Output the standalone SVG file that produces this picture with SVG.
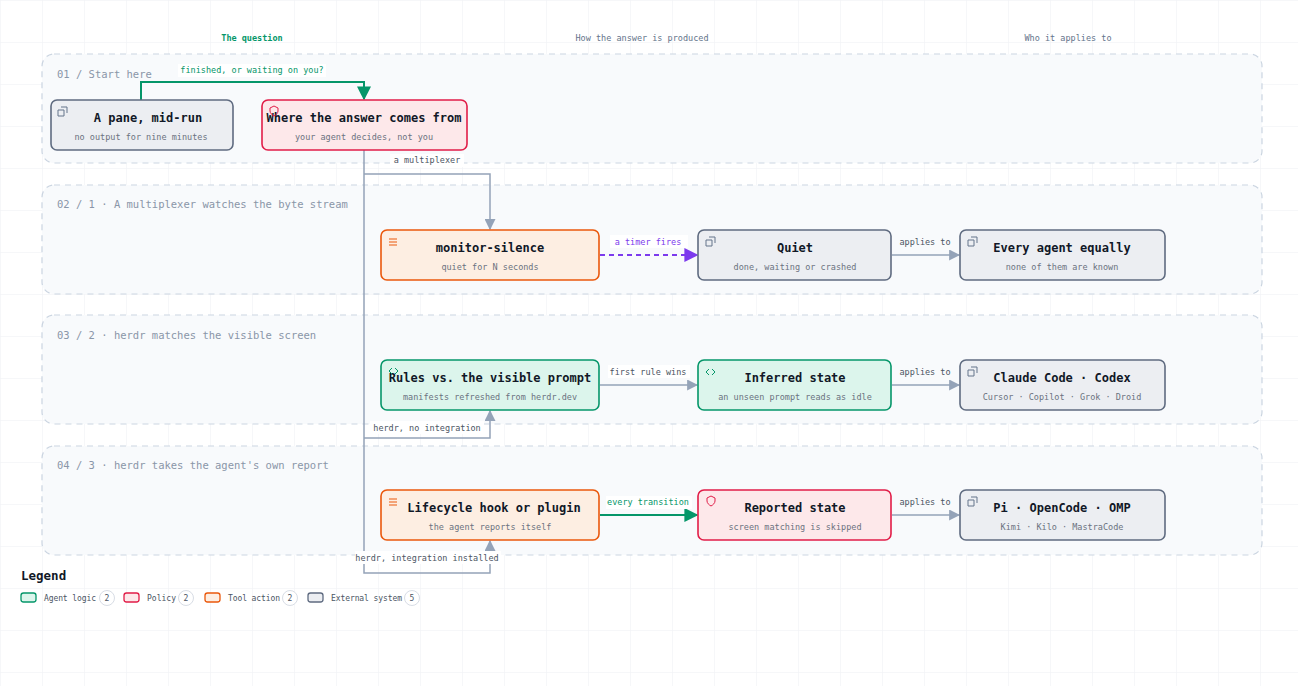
<svg xmlns="http://www.w3.org/2000/svg" width="1298" height="686" viewBox="0 0 1298 686">
<defs>
<pattern id="grid" width="42" height="42" patternUnits="userSpaceOnUse"><path d="M42 0H0V42" fill="none" stroke="#eef0f3" stroke-width="1"/></pattern>
<marker id="agr" viewBox="0 0 10 10" refX="9" refY="5" markerWidth="14" markerHeight="14" orient="auto" markerUnits="userSpaceOnUse"><path d="M0 0L10 5L0 10z" fill="#059669"/></marker>
<marker id="as" viewBox="0 0 10 10" refX="9" refY="5" markerWidth="11" markerHeight="11" orient="auto" markerUnits="userSpaceOnUse"><path d="M0 0L10 5L0 10z" fill="#94a3b8"/></marker>
<marker id="ap" viewBox="0 0 10 10" refX="9" refY="5" markerWidth="14" markerHeight="14" orient="auto" markerUnits="userSpaceOnUse"><path d="M0 0L10 5L0 10z" fill="#7c3aed"/></marker>
<style>
text{font-family:"DejaVu Sans Mono","Liberation Mono",monospace}
.lane{fill:#f8fafc;stroke:#cbd5e1;stroke-dasharray:6 5;stroke-width:1.2}
.lt{font-size:10.5px;fill:#8a96a8}
.hd{font-size:8.5px;fill:#64748b;text-anchor:middle}
.n{stroke-width:1.6}
.ext{fill:#eceef2;stroke:#5f6b80}
.pol{fill:#fde8ea;stroke:#e11d48}
.tool{fill:#fdeee2;stroke:#ea580c}
.ag{fill:#dcf5ec;stroke:#059669}
.t{font-size:12px;font-weight:bold;fill:#111827;text-anchor:middle}
.s{font-size:8.5px;fill:#6b7280;text-anchor:middle}
.c{fill:none;stroke:#94a3b8;stroke-width:1.5}
.cl{font-size:8.5px;fill:#4b5563;text-anchor:middle}
.lb{fill:#fff}
.lg{font-size:8px;fill:#4b5563}
.bd{fill:#fff;stroke:#d8dde5}
</style>
</defs>
<rect width="1298" height="686" fill="#fff"/>
<rect width="1298" height="686" fill="url(#grid)"/>
<text class="hd" x="252" y="41" style="fill:#059669;font-weight:bold">The question</text>
<text class="hd" x="642" y="41">How the answer is produced</text>
<text class="hd" x="1068" y="41">Who it applies to</text>
<g id="lanes">
<rect class="lane" x="42" y="54" width="1220" height="109" rx="12"/>
<rect class="lane" x="42" y="185" width="1220" height="109" rx="12"/>
<rect class="lane" x="42" y="315" width="1220" height="109" rx="12"/>
<rect class="lane" x="42" y="446" width="1220" height="109" rx="12"/>
<text class="lt" x="57" y="78">01 / Start here</text>
<text class="lt" x="57" y="208">02 / 1 · A multiplexer watches the byte stream</text>
<text class="lt" x="57" y="339">03 / 2 · herdr matches the visible screen</text>
<text class="lt" x="57" y="469">04 / 3 · herdr takes the agent's own report</text>
</g>
<g id="connectors">
<path d="M141 100V82H364V99" fill="none" stroke="#059669" stroke-width="2" marker-end="url(#agr)"/>
<rect class="lb" x="178" y="64" width="148" height="13"/>
<text class="cl" x="252" y="73" style="fill:#059669">finished, or waiting on you?</text>
<path class="c" d="M364 150V573H490V541" marker-end="url(#as)"/>
<path class="c" d="M364 174H490V229" marker-end="url(#as)"/>
<rect class="lb" x="390" y="154" width="74" height="13"/>
<text class="cl" x="427" y="163">a multiplexer</text>
<path class="c" d="M364 438H490V411" marker-end="url(#as)"/>
<rect class="lb" x="370" y="421" width="114" height="13"/>
<text class="cl" x="427" y="431">herdr, no integration</text>
<rect class="lb" x="355" y="551" width="146" height="13"/>
<text class="cl" x="427" y="561">herdr, integration installed</text>
<path d="M600 255H697" fill="none" stroke="#7c3aed" stroke-width="1.8" stroke-dasharray="5 4" marker-end="url(#ap)"/>
<rect class="lb" x="610" y="235" width="78" height="13"/>
<text class="cl" x="648" y="245" style="fill:#7c3aed">a timer fires</text>
<path class="c" d="M892 255H959" marker-end="url(#as)"/>
<text class="cl" x="925" y="245">applies to</text>
<path class="c" d="M600 385H697" marker-end="url(#as)"/>
<rect class="lb" x="608" y="365" width="82" height="13"/>
<text class="cl" x="648" y="375">first rule wins</text>
<path class="c" d="M892 385H959" marker-end="url(#as)"/>
<text class="cl" x="925" y="375">applies to</text>
<path d="M600 515H697" fill="none" stroke="#059669" stroke-width="2" marker-end="url(#agr)"/>
<rect class="lb" x="606" y="496" width="86" height="13"/>
<text class="cl" x="648" y="505" style="fill:#059669">every transition</text>
<path class="c" d="M892 515H959" marker-end="url(#as)"/>
<text class="cl" x="925" y="505">applies to</text>
</g>
<g id="n1"><rect class="n ext" x="51" y="100" width="182" height="50" rx="6"/><text class="t" x="148" y="122">A pane, mid-run</text><text class="s" x="141" y="140">no output for nine minutes</text><path d="M58 110h6v6h-6z M61 107h6v6" fill="none" stroke="#64748b" stroke-width="1"/></g>
<g id="n2"><rect class="n pol" x="262" y="100" width="205" height="50" rx="6"/><text class="t" x="364" y="122">Where the answer comes from</text><text class="s" x="364" y="140">your agent decides, not you</text><path d="M270 108l4-2 4 2v3c0 2-2 4-4 5-2-1-4-3-4-5z" fill="none" stroke="#e11d48" stroke-width="1"/></g>
<g id="n3"><rect class="n tool" x="381" y="230" width="218" height="50" rx="6"/><text class="t" x="490" y="252">monitor-silence</text><text class="s" x="490" y="270">quiet for N seconds</text><path d="M389 239h8M389 242h8M389 245h8" stroke="#ea580c" stroke-width="1"/></g>
<g id="n4"><rect class="n ext" x="698" y="230" width="193" height="50" rx="6"/><text class="t" x="795" y="252">Quiet</text><text class="s" x="795" y="270">done, waiting or crashed</text><path d="M706 240h6v6h-6z M709 237h6v6" fill="none" stroke="#64748b" stroke-width="1"/></g>
<g id="n5"><rect class="n ext" x="960" y="230" width="205" height="50" rx="6"/><text class="t" x="1062" y="252">Every agent equally</text><text class="s" x="1062" y="270">none of them are known</text><path d="M968 240h6v6h-6z M971 237h6v6" fill="none" stroke="#64748b" stroke-width="1"/></g>
<g id="n6"><rect class="n ag" x="381" y="360" width="218" height="50" rx="6"/><text class="t" x="490" y="382">Rules vs. the visible prompt</text><text class="s" x="490" y="400">manifests refreshed from herdr.dev</text><path d="M392 368l-3 3 3 3M395 368l3 3-3 3" fill="none" stroke="#059669" stroke-width="1"/></g>
<g id="n7"><rect class="n ag" x="698" y="360" width="193" height="50" rx="6"/><text class="t" x="795" y="382">Inferred state</text><text class="s" x="795" y="400">an unseen prompt reads as idle</text><path d="M709 369l-3 3 3 3M712 369l3 3-3 3" fill="none" stroke="#059669" stroke-width="1"/></g>
<g id="n8"><rect class="n ext" x="960" y="360" width="205" height="50" rx="6"/><text class="t" x="1062" y="382">Claude Code · Codex</text><text class="s" x="1062" y="400">Cursor · Copilot · Grok · Droid</text><path d="M968 370h6v6h-6z M971 367h6v6" fill="none" stroke="#64748b" stroke-width="1"/></g>
<g id="n9"><rect class="n tool" x="381" y="490" width="218" height="50" rx="6"/><text class="t" x="494" y="512">Lifecycle hook or plugin</text><text class="s" x="490" y="530">the agent reports itself</text><path d="M389 499h8M389 502h8M389 505h8" stroke="#ea580c" stroke-width="1"/></g>
<g id="n10"><rect class="n pol" x="698" y="490" width="193" height="50" rx="6"/><text class="t" x="795" y="512">Reported state</text><text class="s" x="795" y="530">screen matching is skipped</text><path d="M707 498l4-2 4 2v3c0 2-2 4-4 5-2-1-4-3-4-5z" fill="none" stroke="#e11d48" stroke-width="1"/></g>
<g id="n11"><rect class="n ext" x="960" y="490" width="205" height="50" rx="6"/><text class="t" x="1062" y="512">Pi · OpenCode · OMP</text><text class="s" x="1062" y="530">Kimi · Kilo · MastraCode</text><path d="M968 500h6v6h-6z M971 497h6v6" fill="none" stroke="#64748b" stroke-width="1"/></g>
<g id="legend">
<text x="21" y="580" style="font-size:12.5px;font-weight:bold;fill:#111827">Legend</text>
<rect class="ag" x="21" y="593" width="15" height="9" rx="2.5" stroke-width="1.3"/><text class="lg" x="44" y="601" textLength="52">Agent logic</text><circle class="bd" cx="107" cy="598" r="7.5"/><text class="lg" x="107" y="601" text-anchor="middle">2</text>
<rect class="pol" x="124" y="593" width="15" height="9" rx="2.5" stroke-width="1.3"/><text class="lg" x="147" y="601" textLength="29">Policy</text><circle class="bd" cx="186" cy="598" r="7.5"/><text class="lg" x="186" y="601" text-anchor="middle">2</text>
<rect class="tool" x="205" y="593" width="15" height="9" rx="2.5" stroke-width="1.3"/><text class="lg" x="228" y="601" textLength="52">Tool action</text><circle class="bd" cx="290" cy="598" r="7.5"/><text class="lg" x="290" y="601" text-anchor="middle">2</text>
<rect class="ext" x="308" y="593" width="15" height="9" rx="2.5" stroke-width="1.3"/><text class="lg" x="331" y="601" textLength="71">External system</text><circle class="bd" cx="412" cy="598" r="7.5"/><text class="lg" x="412" y="601" text-anchor="middle">5</text>
</g>
</svg>
